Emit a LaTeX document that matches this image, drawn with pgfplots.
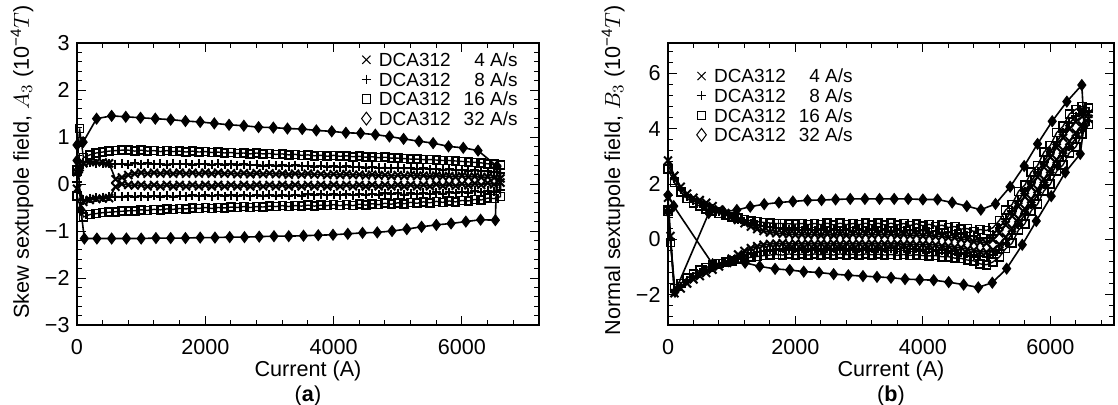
\documentclass[border=0pt]{standalone}
\usepackage{fontspec}
\setmainfont{Liberation Sans}
\usepackage{pgfplots}
\usepackage{pgfplotstable}
\pgfplotsset{compat=1.18}

% ramp-up rows (I increasing) then ramp-down rows (I decreasing)
% A* = skew A3, B* = normal B3, for 4, 8 and 16 A/s
\pgfplotstableread{
I A4 A8 A16 B4 B8 B16
0 0.25 0.20 0.30 1.50 1.20 1.00
40 0.36 0.34 1.18 0.12 -0.03 -0.11
100 0.44 0.46 0.56 -1.95 -1.88 -1.78
200 0.47 0.46 0.62 -1.78 -1.70 -1.60
300 0.47 0.44 0.66 -1.60 -1.50 -1.40
400 0.46 0.43 0.68 -1.45 -1.35 -1.25
500 0.44 0.43 0.70 -1.33 -1.22 -1.12
600 0.10 0.42 0.71 -1.22 -1.10 -1.02
700 0.14 0.43 0.72 -1.10 -1.00 -0.94
800 0.19 0.41 0.72 -0.98 -0.92 -0.88
900 0.22 0.44 0.70 -0.85 -0.84 -0.83
1000 0.24 0.42 0.72 -0.70 -0.76 -0.78
1100 0.22 0.44 0.70 -0.55 -0.68 -0.73
1200 0.24 0.42 0.71 -0.42 -0.60 -0.69
1300 0.22 0.43 0.69 -0.32 -0.52 -0.65
1400 0.24 0.41 0.71 -0.25 -0.46 -0.62
1500 0.22 0.43 0.69 -0.20 -0.41 -0.59
1600 0.24 0.42 0.70 -0.17 -0.38 -0.57
1700 0.22 0.43 0.68 -0.16 -0.36 -0.55
1800 0.24 0.41 0.70 -0.14 -0.34 -0.57
1900 0.22 0.43 0.68 -0.17 -0.32 -0.53
2000 0.24 0.42 0.69 -0.15 -0.34 -0.56
2100 0.22 0.41 0.67 -0.17 -0.32 -0.54
2200 0.24 0.43 0.68 -0.15 -0.34 -0.57
2300 0.22 0.41 0.66 -0.17 -0.32 -0.53
2400 0.23 0.42 0.67 -0.15 -0.35 -0.56
2500 0.21 0.40 0.65 -0.17 -0.32 -0.54
2600 0.23 0.42 0.66 -0.15 -0.34 -0.57
2700 0.21 0.40 0.64 -0.17 -0.32 -0.53
2800 0.23 0.41 0.66 -0.15 -0.35 -0.56
2900 0.21 0.39 0.64 -0.17 -0.32 -0.54
3000 0.23 0.41 0.65 -0.15 -0.34 -0.57
3100 0.21 0.39 0.63 -0.17 -0.32 -0.53
3200 0.22 0.40 0.64 -0.15 -0.34 -0.56
3300 0.20 0.38 0.62 -0.17 -0.32 -0.54
3400 0.22 0.40 0.63 -0.16 -0.34 -0.57
3500 0.20 0.38 0.61 -0.17 -0.33 -0.55
3600 0.22 0.39 0.62 -0.16 -0.35 -0.58
3700 0.20 0.37 0.60 -0.18 -0.33 -0.55
3800 0.21 0.39 0.61 -0.17 -0.36 -0.58
3900 0.19 0.37 0.59 -0.19 -0.34 -0.56
4000 0.21 0.38 0.61 -0.18 -0.37 -0.59
4100 0.19 0.36 0.59 -0.20 -0.36 -0.60
4200 0.21 0.38 0.60 -0.20 -0.39 -0.59
4300 0.19 0.36 0.58 -0.24 -0.39 -0.63
4400 0.20 0.37 0.59 -0.25 -0.43 -0.63
4500 0.18 0.35 0.57 -0.29 -0.44 -0.68
4600 0.20 0.36 0.58 -0.30 -0.49 -0.69
4700 0.18 0.34 0.56 -0.36 -0.51 -0.75
4800 0.19 0.35 0.57 -0.39 -0.58 -0.78
4900 0.17 0.33 0.55 -0.45 -0.60 -0.89
5000 0.19 0.35 0.55 -0.46 -0.64 -0.92
5100 0.17 0.33 0.54 -0.38 -0.56 -0.82
5200 0.19 0.34 0.53 -0.18 -0.38 -0.64
5300 0.17 0.32 0.53 0.08 -0.12 -0.34
5400 0.18 0.33 0.52 0.40 0.20 -0.14
5500 0.16 0.31 0.52 0.75 0.55 0.33
5600 0.18 0.32 0.51 1.10 0.90 0.56
5700 0.16 0.30 0.50 1.45 1.25 1.03
5800 0.17 0.31 0.50 1.81 1.61 1.27
5900 0.15 0.29 0.49 2.17 1.97 1.75
6000 0.17 0.30 0.48 2.53 2.33 1.99
6100 0.15 0.28 0.47 2.88 2.68 2.46
6200 0.16 0.29 0.46 3.23 3.03 2.69
6300 0.14 0.27 0.45 3.55 3.35 3.13
6400 0.15 0.27 0.43 3.85 3.65 3.34
6500 0.13 0.25 0.42 4.12 3.96 3.80
6600 0.12 0.24 0.40 4.36 4.27 4.15
6600 0.03 -0.12 -0.27 4.54 4.63 4.75
6500 -0.01 -0.16 -0.31 4.44 4.60 4.80
6400 0.02 -0.14 -0.30 4.25 4.45 4.70
6300 -0.02 -0.18 -0.34 3.99 4.19 4.53
6200 0.01 -0.15 -0.33 3.67 3.87 4.09
6100 -0.03 -0.19 -0.36 3.32 3.52 3.86
6000 0.00 -0.17 -0.35 2.97 3.17 3.39
5900 -0.04 -0.20 -0.38 2.61 2.81 3.15
5800 -0.01 -0.18 -0.36 2.25 2.45 2.67
5700 -0.04 -0.21 -0.39 1.89 2.09 2.43
5600 -0.01 -0.18 -0.37 1.54 1.74 1.96
5500 -0.05 -0.22 -0.40 1.19 1.39 1.73
5400 -0.02 -0.19 -0.38 0.84 1.04 1.26
5300 -0.05 -0.22 -0.41 0.52 0.72 1.06
5200 -0.02 -0.20 -0.39 0.22 0.42 0.68
5100 -0.05 -0.23 -0.42 -0.02 0.16 0.42
5000 -0.02 -0.20 -0.40 -0.14 0.03 0.32
4900 -0.05 -0.22 -0.43 -0.10 0.03 0.35
4800 -0.02 -0.20 -0.41 -0.09 0.11 0.28
4700 -0.05 -0.23 -0.44 -0.01 0.12 0.39
4600 -0.02 -0.21 -0.42 0.00 0.20 0.37
4500 -0.05 -0.23 -0.45 0.06 0.19 0.46
4400 -0.02 -0.21 -0.43 0.06 0.26 0.43
4300 -0.05 -0.24 -0.46 0.11 0.24 0.51
4200 -0.02 -0.22 -0.44 0.10 0.30 0.47
4100 -0.05 -0.24 -0.46 0.14 0.27 0.54
4000 -0.02 -0.22 -0.44 0.12 0.32 0.49
3900 -0.05 -0.24 -0.46 0.16 0.29 0.56
3800 -0.02 -0.22 -0.45 0.13 0.33 0.50
3700 -0.05 -0.24 -0.47 0.17 0.30 0.57
3600 -0.02 -0.22 -0.45 0.14 0.34 0.52
3500 -0.05 -0.25 -0.47 0.18 0.31 0.58
3400 -0.02 -0.23 -0.46 0.15 0.35 0.52
3300 -0.05 -0.25 -0.48 0.18 0.31 0.58
3200 -0.02 -0.23 -0.46 0.15 0.35 0.52
3100 -0.05 -0.25 -0.48 0.18 0.31 0.58
3000 -0.02 -0.23 -0.47 0.15 0.35 0.53
2900 -0.05 -0.25 -0.49 0.18 0.31 0.57
2800 -0.02 -0.23 -0.48 0.14 0.35 0.53
2700 -0.05 -0.26 -0.50 0.18 0.32 0.58
2600 -0.02 -0.24 -0.48 0.14 0.35 0.52
2500 -0.05 -0.26 -0.50 0.18 0.31 0.58
2400 -0.02 -0.24 -0.49 0.14 0.35 0.53
2300 -0.05 -0.26 -0.51 0.18 0.32 0.57
2200 -0.02 -0.24 -0.50 0.15 0.34 0.53
2100 -0.05 -0.26 -0.52 0.17 0.32 0.57
2000 -0.02 -0.24 -0.50 0.16 0.35 0.55
1900 -0.05 -0.26 -0.52 0.18 0.35 0.56
1800 -0.02 -0.24 -0.51 0.20 0.37 0.57
1700 -0.05 -0.26 -0.53 0.22 0.40 0.57
1600 -0.02 -0.25 -0.52 0.25 0.43 0.59
1500 -0.05 -0.27 -0.54 0.30 0.47 0.61
1400 -0.02 -0.25 -0.53 0.37 0.52 0.64
1300 -0.05 -0.27 -0.55 0.46 0.58 0.67
1200 -0.02 -0.25 -0.54 0.58 0.65 0.71
1100 -0.05 -0.27 -0.56 0.70 0.73 0.76
1000 -0.02 -0.26 -0.55 0.82 0.81 0.81
900 -0.03 -0.27 -0.57 0.95 0.90 0.87
800 -0.02 -0.26 -0.57 1.08 1.00 0.94
700 0.00 -0.27 -0.58 1.20 1.10 1.02
600 -0.06 -0.27 -0.59 1.32 1.20 1.10
500 -0.30 -0.27 -0.60 1.42 1.30 1.20
400 -0.31 -0.28 -0.61 1.50 1.40 1.32
300 -0.32 -0.29 -0.63 1.65 1.55 1.48
200 -0.34 -0.30 -0.65 1.90 1.80 1.70
100 -0.38 -0.34 -0.70 2.30 2.20 2.05
0 -0.10 0.05 -0.25 2.85 2.70 2.55
}\loops

\newcommand{\lfont}{\fontsize{10.8bp}{12bp}\selectfont}
\newcommand{\rate}[1]{DCA312\hspace{0.68em}\makebox[2.84em][r]{#1 A/s}}

\pgfplotsset{
  panel/.style={
    scale only axis, height=141bp, clip=false,
    axis line style={line width=1bp},
    every tick/.style={black, line width=0.5bp},
    major tick length=4.5bp, minor tick length=2.5bp,
    tick align=inside,
    xmin=0,
    xtick={0,2000,4000,6000}, xticklabels={0,2000,4000,6000},
    minor xtick={0,400,...,7200},
    tick label style={font=\lfont},
    xticklabel style={anchor=base, yshift=-14.5bp, inner sep=0pt},
    yticklabel style={anchor=east, xshift=-3.5bp, inner sep=0pt},
    label style={font=\lfont},
    xlabel={Current (A)},
    xlabel style={at={(axis description cs:0.5,0)}, anchor=base, yshift=-25.5bp, inner sep=0pt},
    ylabel style={anchor=east, inner sep=0pt},
    legend image code/.code={\draw[##1] plot coordinates {(0bp,0bp)};},
    legend cell align=left,
    legend style={draw=none, fill=none, inner sep=0pt, outer sep=0pt, row sep=0pt,
      font=\fontsize{9.5bp}{11bp}\selectfont,
      nodes={inner sep=0pt, text height=8.3bp, text depth=1.5bp},
      /tikz/every odd column/.append style={column sep=3.85bp}},
  },
  r4/.style={black, line width=0.8bp, mark=x, mark size=2.8bp, mark options={line width=1bp}},
  r8/.style={black, line width=0.8bp, mark=+, mark size=2.3bp, mark options={line width=1bp}},
  r16/.style={black, line width=0.7bp, mark=square, mark size=2bp, mark options={line width=0.8bp}},
  r32/.style={black, line width=0.8bp, mark=diamond*, mark size=2.7bp, mark options={fill=black, line width=0.5bp}},
  k4/.style={only marks, black, mark=x, mark size=2.9bp, line width=0.5bp},
  k8/.style={only marks, black, mark=+, mark size=2.4bp, line width=0.5bp},
  k16/.style={only marks, black, mark=square, mark size=2.05bp, line width=0.5bp},
  k32/.style={only marks, black, mark=diamond, mark size=3.2bp, line width=0.5bp},
}

\begin{document}
\begin{tikzpicture}
\useasboundingbox (0,0) rectangle (559bp,202.5bp);

\begin{axis}[panel, at={(38.5bp,40bp)}, anchor=south west, width=231bp,
  xmax=7200, ymin=-3, ymax=3,
  ytick={-3,-2,-1,0,1,2,3}, yticklabels={−3,−2,−1,0,1,2,3},
  minor ytick={-3,-2.8,...,3},
  ylabel={Skew sextupole field, $A_3$ (10\textsuperscript{−4}$T$)},
  ylabel style={at={(axis description cs:-0.119,1.1348)}},
  legend style={at={(axis description cs:0.9537,0.9752)}, anchor=north east}]
\addlegendimage{k4}\addlegendentry{\rate{4}}
\addlegendimage{k8}\addlegendentry{\rate{8}}
\addlegendimage{k16}\addlegendentry{\rate{16}}
\addlegendimage{k32}\addlegendentry{\rate{32}}
\addplot[r16, forget plot] table[x=I, y=A16] {\loops};
\addplot[r8, forget plot] table[x=I, y=A8] {\loops};
\addplot[r4, forget plot] table[x=I, y=A4] {\loops};
\addplot[r32, forget plot] coordinates {
(0,0.83) (95,0.89) (305,1.39) (540,1.45) (760,1.43) (990,1.41) (1220,1.39)
(1460,1.37) (1690,1.34) (1920,1.32) (2140,1.29) (2370,1.26) (2600,1.24)
(2830,1.21) (3060,1.20) (3280,1.18) (3510,1.17) (3730,1.14) (3970,1.12)
(4190,1.09) (4420,1.08) (4650,1.05) (4870,1.01) (5090,0.96) (5330,0.91)
(5550,0.87) (5790,0.80) (6020,0.77) (6250,0.71) (6545,0.38)
(6520,-0.77) (6290,-0.76) (6060,-0.80) (5830,-0.84) (5600,-0.87) (5370,-0.91)
(5140,-0.96) (4910,-1.00) (4680,-1.03) (4450,-1.04) (4220,-1.06) (3990,-1.08)
(3760,-1.09) (3530,-1.10) (3300,-1.11) (3070,-1.11) (2840,-1.12) (2610,-1.13)
(2380,-1.13) (2150,-1.14) (1920,-1.14) (1690,-1.15) (1460,-1.15) (1230,-1.15)
(1000,-1.16) (770,-1.16) (540,-1.16) (310,-1.16) (115,-1.16) (60,-0.55)
(25,0.25) (0,0.50)};
\end{axis}

\begin{axis}[panel, at={(334bp,40bp)}, anchor=south west, width=223bp,
  xmax=7000, ymin=-3.1, ymax=7.1,
  ytick={-2,0,2,4,6}, yticklabels={−2,0,2,4,6},
  minor ytick={-2.8,-2.4,...,6.8},
  ylabel={Normal sextupole field, $B_3$ (10\textsuperscript{−4}$T$)},
  ylabel style={at={(axis description cs:-0.123,1.1348)}},
  legend style={at={(axis description cs:0.0644,0.9177)}, anchor=north west}]
\addlegendimage{k4}\addlegendentry{\rate{4}}
\addlegendimage{k8}\addlegendentry{\rate{8}}
\addlegendimage{k16}\addlegendentry{\rate{16}}
\addlegendimage{k32}\addlegendentry{\rate{32}}
\addplot[r16, forget plot] table[x=I, y=B16] {\loops};
\addplot[r8, forget plot] table[x=I, y=B8] {\loops};
\addplot[r4, forget plot] table[x=I, y=B4] {\loops};
\addplot[r32, forget plot] coordinates {
(0,1.00) (110,-1.90) (640,0.95) (870,1.00) (1080,1.06) (1290,1.18) (1510,1.27)
(1740,1.33) (1960,1.37) (2190,1.41) (2410,1.42) (2630,1.44) (2860,1.46)
(3090,1.46) (3320,1.46) (3550,1.46) (3770,1.46) (4000,1.44) (4230,1.44)
(4460,1.33) (4690,1.20) (4910,1.07) (5140,1.28) (5370,1.90) (5590,2.65)
(5800,3.45) (6030,4.27) (6260,4.98) (6495,5.58) (6530,4.10)
(6470,3.09) (6235,2.42) (6015,1.56) (5780,0.66) (5560,-0.20) (5315,-1.06)
(5090,-1.57) (4870,-1.74) (4640,-1.64) (4405,-1.55) (4170,-1.48) (3950,-1.46)
(3720,-1.44) (3500,-1.39) (3280,-1.36) (3060,-1.33) (2830,-1.30) (2600,-1.26)
(2370,-1.20) (2130,-1.17) (1910,-1.11) (1680,-1.07) (1440,-0.98) (1210,-0.85)
(980,-0.80) (700,-0.90) (90,1.20) (0,1.60)};
\end{axis}

\node[anchor=base, font=\lfont] at (154bp,2bp) {(\textbf{a})};
\node[anchor=base, font=\lfont] at (445.5bp,2bp) {(\textbf{b})};
\end{tikzpicture}
\end{document}
